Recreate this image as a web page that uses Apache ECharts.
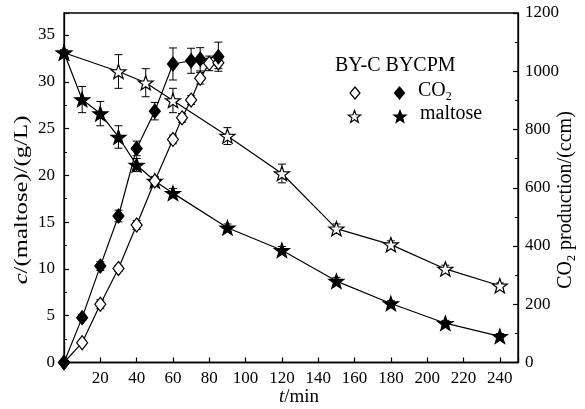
<!DOCTYPE html>
<html><head><meta charset="utf-8">
<script src="https://cdn.jsdelivr.net/npm/echarts@6/dist/echarts.min.js"></script>
<style>html,body{margin:0;padding:0;background:#fff}#c{width:585px;height:409px}</style>
</head><body><div id="c"></div>
<script>
// ---- data ----
const tMaltoseBYC = [0,30,45,60,90,120,150,180,210,240];
const maltoseBYC = [33.1,31.1,29.9,28.0,24.2,20.2,14.3,12.6,10.0,8.2];
const maltoseBYCErr = [0.3,1.8,1.5,1.3,0.9,1.0,0.5,0.4,0.4,0.3];

const tMaltoseBYCPM = [0,10,20,30,40,50,60,90,120,150,180,210,240];
const maltoseBYCPM = [33.1,28.1,26.6,24.1,21.1,19.4,18.1,14.4,12.0,8.7,6.3,4.2,2.8];
const maltoseBYCPMErr = [0.3,1.4,1.3,1.2,0.7,0.4,0.5,0.4,0.4,0.4,0.3,0.3,0.3];

const tCO2BYC = [0,10,20,30,40,50,60,65,70,75,80,85];
const co2BYC = [0,68,200,323,472,623,766,840,901,976,1027,1029];
const co2BYCErr = [0,8,15,10,15,15,15,15,15,20,25,20];

const tCO2BYCPM = [0,10,20,30,40,50,60,70,75,85];
const co2BYCPM = [0,154,331,503,735,863,1025,1036,1041,1050];
const co2BYCPMErr = [0,10,15,20,25,30,55,43,40,50];

const xTicks = [20,40,60,80,100,120,140,160,180,200,220,240];
const leftTicks = [0,5,10,15,20,25,30,35];
const rightTicks = [0,200,400,600,800,1000,1200];

// ---- helpers ----
const FONT = 'Liberation Serif';
const STAR = 'path://M0,-10L2.35,-3.24L9.51,-3.09L3.8,1.24L5.88,8.09L0,4.2L-5.88,8.09L-3.8,1.24L-9.51,-3.09L-2.35,-3.24Z';
const zip = (a,b) => a.map((v,i)=>[v,b[i]]);
const zip3 = (a,b,e) => a.map((v,i)=>[v,b[i]-e[i],b[i]+e[i]]);

function errSeries(data, yAxisIndex){
  return {
    type:'custom', yAxisIndex, z:1, silent:true,
    data,
    renderItem(params, api){
      const x = api.value(0);
      const lo = api.coord([x, api.value(1)]);
      const hi = api.coord([x, api.value(2)]);
      const w = 4;
      const st = {stroke:'#000', lineWidth:1};
      return {type:'group', children:[
        {type:'line', shape:{x1:lo[0],y1:lo[1],x2:hi[0],y2:hi[1]}, style:st},
        {type:'line', shape:{x1:lo[0]-w,y1:lo[1],x2:lo[0]+w,y2:lo[1]}, style:st},
        {type:'line', shape:{x1:hi[0]-w,y1:hi[1],x2:hi[0]+w,y2:hi[1]}, style:st}
      ]};
    }
  };
}
function lineSeries(data, yAxisIndex, symbol, size, filled){
  return {
    type:'line', yAxisIndex, data, symbol, symbolSize:size, symbolKeepAspect:true,
    showAllSymbol:true, z:3,
    lineStyle:{color:'#000', width:1.2},
    itemStyle:{color: filled ? '#000' : '#fff', borderColor:'#000', borderWidth:1.2, opacity:1},
    emphasis:{disabled:true}, animation:false
  };
}
function starPts(cx, cy, R){
  const r = R*0.42, pts=[];
  for(let i=0;i<10;i++){
    const a = -Math.PI/2 + i*Math.PI/5, rr = i%2 ? r : R;
    pts.push([cx+rr*Math.cos(a), cy+rr*Math.sin(a)]);
  }
  return pts;
}
function diamondPts(cx, cy, w, h){ return [[cx,cy-h/2],[cx+w/2,cy],[cx,cy+h/2],[cx-w/2,cy]]; }

const axisCommon = {
  axisLine:{show:true, lineStyle:{color:'#000', width:1.3}},
  axisTick:{show:true, inside:true, length:5, lineStyle:{color:'#000', width:1.2}},
  splitLine:{show:false},
  axisLabel:{color:'#000', fontFamily:FONT, fontSize:17}
};

const chart = echarts.init(document.getElementById('c'), null, {renderer:'canvas'});
chart.setOption({
  animation:false,
  backgroundColor:'#fff',
  grid:{left:64, right:67, top:13, bottom:46.5, containLabel:false, outerBoundsMode:'none',
        show:true, borderColor:'#000', borderWidth:1.3, backgroundColor:'transparent'},
  xAxis:Object.assign({}, axisCommon, {
    type:'value', min:0, max:250, interval:20,
    axisLabel:Object.assign({}, axisCommon.axisLabel, {margin:8, formatter:v=> xTicks.includes(v)? String(v):''}),
  }),
  yAxis:[
    Object.assign({}, axisCommon, {
      type:'value', min:0, max:37.35, interval:5, position:'left',
      minorTick:{show:true, splitNumber:2, length:3, lineStyle:{color:'#000', width:1}},
      axisLabel:Object.assign({}, axisCommon.axisLabel, {margin:9, formatter:v=> leftTicks.includes(v)? String(v):''}),
    }),
    Object.assign({}, axisCommon, {
      type:'value', min:0, max:1200, interval:200, position:'right',
      minorTick:{show:true, splitNumber:2, length:3, lineStyle:{color:'#000', width:1}},
      axisLabel:Object.assign({}, axisCommon.axisLabel, {margin:7, formatter:v=> rightTicks.includes(v)? String(v):''}),
    })
  ],
  series:[
    errSeries(zip3(tMaltoseBYC, maltoseBYC, maltoseBYCErr), 0),
    errSeries(zip3(tMaltoseBYCPM, maltoseBYCPM, maltoseBYCPMErr), 0),
    errSeries(zip3(tCO2BYC, co2BYC, co2BYCErr), 1),
    errSeries(zip3(tCO2BYCPM, co2BYCPM, co2BYCPMErr), 1),
    lineSeries(zip(tMaltoseBYC, maltoseBYC), 0, STAR, 15, false),
    lineSeries(zip(tMaltoseBYCPM, maltoseBYCPM), 0, STAR, 15, true),
    lineSeries(zip(tCO2BYC, co2BYC), 1, 'diamond', [11,14], false),
    lineSeries(zip(tCO2BYCPM, co2BYCPM), 1, 'diamond', [11,14], true)
  ],
  graphic:[
    // axis titles
    {type:'text', x:299, y:397, style:{text:'{i|t}/min', fill:'#000', font:'19px "Liberation Serif"', align:'center', verticalAlign:'middle',
      rich:{i:{fontStyle:'italic', fontFamily:FONT, fontSize:19, fill:'#000'}}}},
    {type:'text', x:22, y:200, rotation:Math.PI/2, scaleX:1.3, style:{text:'{i|c}/(maltose)/(g/L)', fill:'#000', font:'19px "Liberation Serif"', align:'center', verticalAlign:'middle',
      rich:{i:{fontStyle:'italic', fontFamily:FONT, fontSize:19, fill:'#000'}}}},
    {type:'text', x:566, y:200, rotation:Math.PI/2, style:{text:'CO{s|2} production/(ccm)', fill:'#000', font:'20px "Liberation Serif"', align:'center', verticalAlign:'middle',
      rich:{s:{fontFamily:FONT, fontSize:12, fill:'#000', padding:[12,0,0,0]}}}},
    // legend
    {type:'text', left:335, top:56, style:{text:'BY-C BYCPM', fill:'#000', font:'20px "Liberation Serif"'}},
    {type:'polygon', shape:{points:diamondPts(355,93,10,12)}, style:{fill:'#fff', stroke:'#000', lineWidth:1.2}},
    {type:'polygon', shape:{points:diamondPts(399.5,93,10,12)}, style:{fill:'#000', stroke:'#000', lineWidth:1.2}},
    {type:'polygon', shape:{points:starPts(354.5,117,6.5)}, style:{fill:'#fff', stroke:'#000', lineWidth:1.2}},
    {type:'polygon', shape:{points:starPts(400,117,6.5)}, style:{fill:'#000', stroke:'#000', lineWidth:1.2}},
    {type:'text', left:418, top:81, style:{text:'CO{s|2}', fill:'#000', font:'20px "Liberation Serif"', rich:{s:{fontSize:12, fontFamily:FONT, fill:'#000', padding:[12,0,0,0]}}}},
    {type:'text', left:420, top:104, style:{text:'maltose', fill:'#000', font:'20px "Liberation Serif"'}}
  ]
});
</script></body></html>
